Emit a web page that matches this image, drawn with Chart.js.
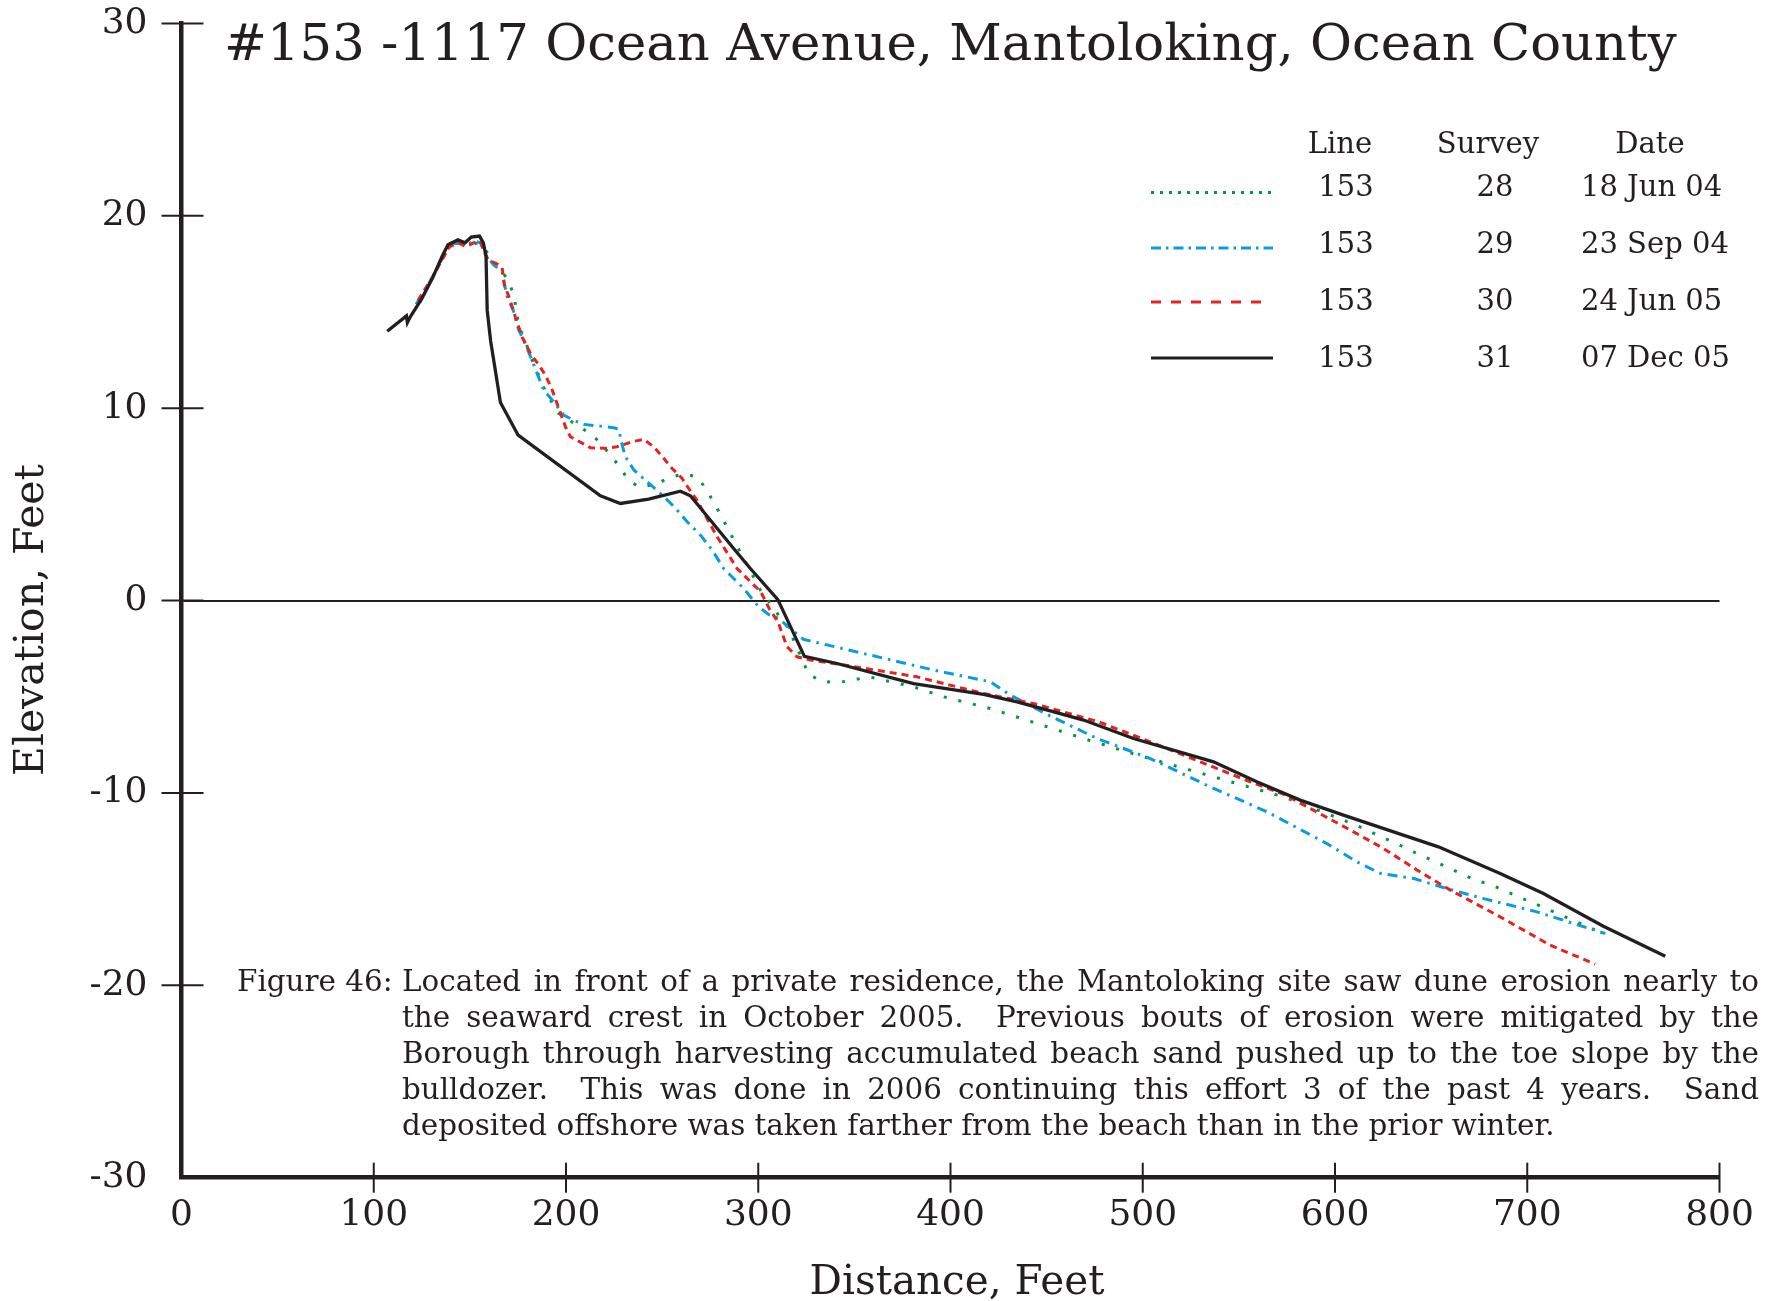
<!DOCTYPE html>
<html>
<head>
<meta charset="utf-8">
<script src="https://cdn.jsdelivr.net/npm/chart.js@4.4.1/dist/chart.umd.min.js"></script>
<style>
  html, body { margin: 0; padding: 0; background: #fff; }
  canvas { display: block; }
</style>
</head>
<body>
<canvas id="profile" width="1776" height="1301"></canvas>
<script>
// survey 31 - 07 Dec 05 (solid black)
var dist31 = [107, 117, 117.5, 119, 125, 130.5, 135.6, 138.6, 143.8, 147.5, 150.7, 155, 157, 158.4, 159, 160.8, 162.4, 165.9, 175.1, 217.9, 228.3, 243, 259.5, 264.7, 287.2, 295.9, 310.2, 324, 341, 380.8, 417.2, 434.6, 451.9, 469.2, 495.2, 536.8, 559.3, 581.9, 604.4, 653.8, 685.9, 708.4, 739.6, 771.8];
var elev31 = [14.0, 14.8, 14.45, 14.75, 15.7, 16.75, 17.9, 18.5, 18.75, 18.6, 18.9, 18.95, 18.6, 17.9, 15.1, 13.5, 12.5, 10.3, 8.6, 5.45, 5.05, 5.28, 5.69, 5.45, 2.71, 1.67, 0.05, -2.9, -3.27, -4.31, -4.88, -5.26, -5.73, -6.21, -7.17, -8.38, -9.42, -10.37, -11.15, -12.8, -14.19, -15.23, -16.93, -18.49];

// survey 30 - 24 Jun 05 (red dashed)
var dist30 = [123, 130.5, 136, 139.5, 144, 148, 152, 155.5, 158.1, 159.8, 164.2, 166.8, 168, 171, 173.6, 177.2, 181.5, 185.8, 189.3, 192.8, 196.2, 199.7, 202.3, 212.7, 221.4, 226.6, 234.4, 240.4, 245.6, 250.8, 255.2, 260.4, 263.8, 268.2, 278.6, 289, 301.3, 306.1, 310.3, 312.4, 315, 320.2, 327.1, 347.9, 382.5, 417.2, 443.2, 477, 503.9, 529.9, 555.9, 573.2, 587.2, 608, 625.3, 642.6, 660, 685.9, 711.9, 735.3];
var elev30 = [15.6, 16.8, 17.8, 18.4, 18.6, 18.4, 18.6, 18.66, 17.97, 17.7, 17.5, 17.3, 16.4, 15.6, 14.76, 13.7, 12.85, 12.25, 11.73, 10.95, 10.0, 9.04, 8.52, 7.95, 7.91, 8.0, 8.26, 8.38, 8.0, 7.4, 6.87, 6.35, 5.83, 5.2, 3.32, 1.67, 0.46, -0.49, -1.1, -1.7, -2.4, -2.92, -3.09, -3.4, -3.96, -4.83, -5.35, -6.3, -7.34, -8.38, -9.42, -10.06, -10.81, -11.93, -12.89, -14.0, -15.05, -16.44, -17.91, -18.9];

// survey 29 - 23 Sep 04 (blue dash-dot)
var dist29 = [122, 130.5, 136, 139.9, 145, 148.6, 152, 155.5, 158, 162.4, 166.8, 167.6, 169.4, 172.5, 175.4, 178, 182.3, 185, 188.4, 192.8, 198.8, 203.7, 209.2, 224.8, 227.4, 229.2, 230.9, 235.3, 242.2, 250, 257, 263, 270, 276.2, 282, 292.4, 300.2, 305.4, 310.6, 316.7, 323.6, 354.8, 391.2, 420.7, 431.1, 451.9, 477, 503.9, 535.1, 564.6, 595.8, 611.4, 623.8, 641.1, 656.7, 677.3, 705, 740.6];
var elev29 = [15.4, 16.8, 17.85, 18.57, 18.57, 18.49, 18.71, 18.6, 18.0, 17.45, 17.1, 16.6, 15.8, 15.1, 14.07, 13.55, 12.5, 11.8, 10.95, 10.43, 9.65, 9.39, 9.16, 8.99, 8.9, 8.09, 7.48, 6.79, 6.18, 5.49, 4.8, 4.1, 3.4, 2.6, 1.67, 0.63, -0.32, -0.72, -0.93, -1.45, -2.02, -2.75, -3.61, -4.22, -4.91, -6.0, -7.2, -8.21, -9.68, -10.98, -12.63, -13.58, -14.19, -14.45, -14.93, -15.49, -16.18, -17.31];

// survey 28 - 18 Jun 04 (green dotted)
var dist28 = [124, 131, 136, 140, 145, 148.6, 155.1, 164.8, 169.7, 172.8, 174.2, 175.4, 178.9, 181.5, 185, 188, 191.9, 196.2, 203.7, 211, 217.5, 222.7, 228, 232.3, 238.3, 246.2, 254, 261.7, 268.7, 273.4, 277.7, 285.5, 293.3, 301.1, 306.3, 311.1, 315.8, 319.3, 322.8, 326.2, 332.6, 341, 349.1, 357.4, 380.8, 396.4, 420.7, 445, 469.2, 500.4, 524.7, 549, 573.2, 604.4, 612.2, 635.6, 642.6, 658.1, 672.9, 681.5, 696.3, 719.7, 737];
var elev28 = [15.5, 16.9, 17.9, 18.5, 18.6, 18.5, 18.6, 17.36, 16.7, 15.9, 15.1, 14.27, 13.5, 12.68, 11.9, 11.15, 10.43, 9.73, 9.25, 8.78, 8.26, 7.6, 6.96, 6.27, 5.89, 6.04, 6.4, 6.6, 6.4, 5.7, 4.97, 3.49, 2.02, 0.55, -0.15, -0.84, -1.45, -2.26, -3.06, -3.82, -4.19, -4.27, -4.13, -3.96, -4.48, -5.0, -5.61, -6.39, -7.17, -8.12, -8.81, -9.51, -10.2, -11.41, -11.73, -12.8, -13.15, -13.84, -14.53, -14.79, -15.43, -16.44, -17.2];

// legend table (top to bottom)
var legLine = ['153', '153', '153', '153'];
var legSurvey = ['28', '29', '30', '31'];
var legDate = ['18 Jun 04', '23 Sep 04', '24 Jun 05', '07 Dec 05'];

var titleText = '#153 -1117 Ocean Avenue, Mantoloking, Ocean County';
var captionLabel = 'Figure 46:';
var captionLines = [
  'Located in front of a private residence, the Mantoloking site saw dune erosion nearly to',
  'the seaward crest in October 2005.  Previous bouts of erosion were mitigated by the',
  'Borough through harvesting accumulated beach sand pushed up to the toe slope by the',
  'bulldozer.  This was done in 2006 continuing this effort 3 of the past 4 years.  Sand',
  'deposited offshore was taken farther from the beach than in the prior winter.'
];

var ink = '#231f20';
var serif = '"DejaVu Serif", serif';
var green = '#00973f', blue = '#0a9ce0', red = '#e4231e';
var dotted = [3, 12], dashDot = [10, 6, 2.5, 6], dashed = [7, 5];

function pts(xs, ys) {
  return xs.map(function (x, i) { return { x: x, y: ys[i] }; });
}

// scale a font so the text covers a given width
function fitFont(ctx, text, size, width) {
  ctx.font = size + 'px ' + serif;
  return size * width / ctx.measureText(text).width;
}

function justify(ctx, line, x, y, w) {
  var words = line.split(' ');
  var total = 0;
  words.forEach(function (s) { total += ctx.measureText(s).width; });
  var gap = (w - total) / (words.length - 1);
  var cx = x;
  words.forEach(function (s) {
    ctx.fillText(s, cx, y);
    cx += ctx.measureText(s).width + gap;
  });
}

var extras = {
  id: 'extras',
  afterDraw: function (chart) {
    var ctx = chart.ctx;
    var xs = chart.scales.x, ys = chart.scales.y;
    ctx.save();
    ctx.strokeStyle = ink;
    ctx.fillStyle = ink;
    ctx.lineWidth = 2;
    ctx.setLineDash([]);

    // ticks crossing the axes
    ys.ticks.forEach(function (t) {
      if (t.value === ys.min) return;
      var py = ys.getPixelForValue(t.value);
      ctx.beginPath(); ctx.moveTo(xs.left - 20, py); ctx.lineTo(xs.left + 22, py); ctx.stroke();
    });
    xs.ticks.forEach(function (t) {
      if (t.value === xs.min) return;
      var px = xs.getPixelForValue(t.value);
      ctx.beginPath(); ctx.moveTo(px, ys.bottom - 15); ctx.lineTo(px, ys.bottom + 15); ctx.stroke();
    });

    // title
    var f = fitFont(ctx, titleText, 52, 1453);
    ctx.font = f + 'px ' + serif;
    ctx.textAlign = 'left';
    ctx.textBaseline = 'alphabetic';
    ctx.fillText(titleText, 224, 59.5);

    // axis titles
    f = fitFont(ctx, 'Distance, Feet', 38, 295);
    ctx.font = f + 'px ' + serif;
    ctx.textAlign = 'center';
    ctx.fillText('Distance, Feet', 957, 1294);
    f = fitFont(ctx, 'Elevation, Feet', 38, 312);
    ctx.font = f + 'px ' + serif;
    ctx.save();
    ctx.translate(43, 620);
    ctx.rotate(-Math.PI / 2);
    ctx.fillText('Elevation, Feet', 0, 0);
    ctx.restore();

    // legend table
    ctx.font = '29px ' + serif;
    ctx.textAlign = 'center';
    ctx.fillText('Line', 1340, 153);
    ctx.fillText('Survey', 1488, 153);
    ctx.fillText('Date', 1650, 153);
    var rowBase = [196, 253, 310, 367];
    var rowLine = [192.5, 248, 302, 358];
    var styles = [
      { c: green, d: [3, 6], w: 3, end: 1273 },
      { c: blue, d: [10, 5, 2.5, 5], w: 3, end: 1273 },
      { c: red, d: [10, 10], w: 3, end: 1261 },
      { c: ink, d: [], w: 3, end: 1273 }
    ];
    for (var i = 0; i < 4; i++) {
      ctx.textAlign = 'center';
      ctx.fillText(legLine[i], 1346, rowBase[i]);
      ctx.fillText(legSurvey[i], 1495, rowBase[i]);
      ctx.textAlign = 'left';
      ctx.fillText(legDate[i], 1581, rowBase[i]);
      ctx.save();
      ctx.strokeStyle = styles[i].c;
      ctx.lineWidth = styles[i].w;
      ctx.setLineDash(styles[i].d);
      ctx.beginPath(); ctx.moveTo(1151, rowLine[i]); ctx.lineTo(styles[i].end, rowLine[i]); ctx.stroke();
      ctx.restore();
    }

    // caption
    f = fitFont(ctx, captionLines[4], 28, 1153);
    ctx.font = f + 'px ' + serif;
    ctx.textAlign = 'left';
    ctx.fillText(captionLabel, 237, 991);
    captionLines.forEach(function (line, k) {
      var y = 991 + k * 36;
      if (k < captionLines.length - 1) justify(ctx, line, 402, y, 1357);
      else ctx.fillText(line, 402, y);
    });
    ctx.restore();
  }
};

new Chart(document.getElementById('profile'), {
  type: 'line',
  data: {
    datasets: [
      { label: '31', data: pts(dist31, elev31), borderColor: ink, borderWidth: 3.3 },
      { label: '30', data: pts(dist30, elev30), borderColor: red, borderWidth: 3, borderDash: dashed },
      { label: '29', data: pts(dist29, elev29), borderColor: blue, borderWidth: 3, borderDash: dashDot },
      { label: '28', data: pts(dist28, elev28), borderColor: green, borderWidth: 3, borderDash: dotted }
    ]
  },
  options: {
    responsive: false,
    animation: false,
    devicePixelRatio: 1,
    layout: { padding: { top: 23.5, right: 56.5, left: 0, bottom: 0 } },
    elements: { point: { radius: 0 }, line: { tension: 0, fill: false } },
    plugins: { legend: { display: false }, tooltip: { enabled: false } },
    scales: {
      x: {
        type: 'linear', min: 0, max: 800,
        afterFit: function (s) { s.height = 123.3; s.paddingLeft = 0; s.paddingRight = 0; },
        grid: { display: false, drawTicks: false },
        border: { display: true, color: ink, width: 4.5 },
        ticks: { stepSize: 100, padding: 16, color: ink, font: { family: serif, size: 36 }, maxRotation: 0 }
      },
      y: {
        min: -30, max: 30,
        afterFit: function (s) { s.width = 181.5; s.paddingTop = 0; s.paddingBottom = 0; },
        grid: {
          drawTicks: false,
          lineWidth: 2,
          color: function (c) { return c.tick && c.tick.value === 0 ? ink : 'rgba(0,0,0,0)'; }
        },
        border: { display: true, color: ink, width: 4.5 },
        ticks: {
          stepSize: 10, padding: 34, color: ink, font: { family: serif, size: 36 },
          callback: function (v) { return String(v); }
        }
      }
    }
  },
  plugins: [extras]
});
</script>
</body>
</html>
